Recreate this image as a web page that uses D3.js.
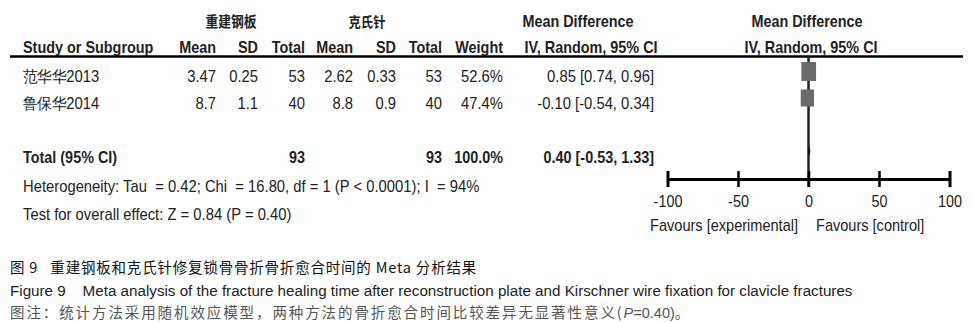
<!DOCTYPE html>
<html>
<head>
<meta charset="utf-8">
<script src="https://cdn.jsdelivr.net/npm/d3@7/dist/d3.min.js"></script>
<style>
  html, body { margin: 0; padding: 0; background: #fff; }
  svg { display: block; }
  .t { font-family: "Liberation Sans", Arial, sans-serif; fill: #222; }
  .b { font-weight: bold; }
</style>
</head>
<body>
<svg id="chart" width="973" height="323"></svg>
<script>
// ---- data ----
const studies = ["范华华2013", "鲁保华2014"];
const expMean = [3.47, 8.7];
const expSD = [0.25, 1.1];
const expTotal = [53, 40];
const ctlMean = [2.62, 8.8];
const ctlSD = [0.33, 0.9];
const ctlTotal = [53, 40];
const weights = [52.6, 47.4];
const md = [0.85, -0.10];
const ciLow = [0.74, -0.54];
const ciHigh = [0.96, 0.34];
const totalExp = 93, totalCtl = 93, totalWeight = 100.0;
const totalMD = 0.40, totalLow = -0.53, totalHigh = 1.33;
const axisTicks = [-100, -50, 0, 50, 100];
const groupLabels = ["重建钢板", "克氏针"];

const svg = d3.select("#chart");
const ink = "#222";
const SX = 0.9;   // horizontal condensation, bold table font
const SXR = 0.925; // horizontal condensation, regular table font

// scales
const x = d3.scaleLinear().domain([-100, 100]).range([667.5, 949.5]);
const rowY = d3.scalePoint().domain(studies).range([71.5, 98]);
const sqW = d3.scaleLinear().domain([0, 100]).range([0, 28]);
const sqH = d3.scaleLinear().domain([0, 100]).range([0, 36]);

function txt(xp, yp, s, opts = {}) {
  const sx = opts.sx || (opts.bold ? SX : SXR);
  const t = svg.append("text").attr("class", "t" + (opts.bold ? " b" : ""))
    .attr("transform", `translate(${xp},${yp}) scale(${sx},1)`)
    .attr("font-size", opts.size || 16)
    .attr("text-anchor", opts.anchor || "start")
    .text(s);
  if (opts.fill) t.style("fill", opts.fill);
  return t;
}
const fmt2 = v => d3.format(".2f")(v).replace("\u2212", "-");

// headers
txt(231, 27, groupLabels[0], {bold: true, anchor: "middle", size: 14.5, sx: 0.88}).style("font-family", "'Noto Sans CJK SC', sans-serif");
txt(367, 27, groupLabels[1], {bold: true, anchor: "middle", size: 14, sx: 0.88}).style("font-family", "'Noto Sans CJK SC', sans-serif");
txt(578, 27, "Mean Difference", {bold: true, anchor: "middle"});
txt(807, 27, "Mean Difference", {bold: true, anchor: "middle"});

const colRight = [216, 258, 305, 353, 396, 442, 503];
const colHead = ["Mean", "SD", "Total", "Mean", "SD", "Total", "Weight"];
txt(23, 53, "Study or Subgroup", {bold: true});
colHead.forEach((h, i) => txt(colRight[i], 53, h, {bold: true, anchor: "end"}));
txt(591, 53, "IV, Random, 95% CI", {bold: true, anchor: "middle"});
txt(811, 53, "IV, Random, 95% CI", {bold: true, anchor: "middle"});

svg.append("line").attr("x1", 10).attr("x2", 963).attr("y1", 56.5).attr("y2", 56.5)
  .attr("stroke", "#000").attr("stroke-width", 2.5);

// rows
studies.forEach((s, i) => {
  const y = rowY(s) + 10.5;
  txt(23, y, s);
  const vals = [expMean[i], expSD[i], expTotal[i], ctlMean[i], ctlSD[i], ctlTotal[i], weights[i].toFixed(1) + "%"];
  vals.forEach((v, j) => txt(colRight[j], y, String(v), {anchor: "end"}));
  txt(654, y, `${fmt2(md[i])} [${fmt2(ciLow[i])}, ${fmt2(ciHigh[i])}]`, {anchor: "end"});
});

// total row
txt(23, 163, "Total (95% CI)", {bold: true});
txt(colRight[2], 163, String(totalExp), {bold: true, anchor: "end"});
txt(colRight[5], 163, String(totalCtl), {bold: true, anchor: "end"});
txt(colRight[6], 163, totalWeight.toFixed(1) + "%", {bold: true, anchor: "end"});
txt(654, 163, `${fmt2(totalMD)} [${fmt2(totalLow)}, ${fmt2(totalHigh)}]`, {bold: true, anchor: "end"});

txt(23, 192, "Heterogeneity: Tau  = 0.42; Chi  = 16.80, df = 1 (P < 0.0001); I  = 94%").style("white-space", "pre");
txt(23, 220, "Test for overall effect: Z = 0.84 (P = 0.40)");

// forest plot
svg.append("line").attr("x1", x(0)).attr("x2", x(0)).attr("y1", 56).attr("y2", 187)
  .attr("stroke", ink).attr("stroke-width", 2.5);

studies.forEach((s, i) => {
  const cy = rowY(s);
  svg.append("line").attr("x1", x(ciLow[i])).attr("x2", x(ciHigh[i])).attr("y1", cy).attr("y2", cy)
    .attr("stroke", ink).attr("stroke-width", 1.5);
  svg.append("rect")
    .attr("x", x(md[i]) - sqW(weights[i]) / 2 - 1)
    .attr("y", cy - sqH(weights[i]) / 2)
    .attr("width", sqW(weights[i])).attr("height", sqH(weights[i]))
    .attr("fill", "#6b6b6b");
});

const dy = 151;
svg.append("path")
  .attr("d", `M${x(totalLow)},${dy} L${x(totalMD)},${dy - 6} L${x(totalHigh)},${dy} L${x(totalMD)},${dy + 6} Z`)
  .attr("fill", "#111");

const axis = d3.axisBottom(x).tickValues(axisTicks).tickSize(0).tickPadding(17)
  .tickFormat(d => d3.format("d")(d).replace("\u2212", "-"));
const gA = svg.append("g").attr("transform", "translate(0,179)").call(axis);
gA.select(".domain").attr("stroke", "#000").attr("stroke-width", 3);
gA.selectAll(".tick text").attr("class", "t").attr("font-size", 16).style("fill", ink)
  .attr("transform", `scale(${SX},1)`);
gA.selectAll(".tick").append("line").attr("y1", -8).attr("y2", 8)
  .attr("stroke", "#000").attr("stroke-width", (d, i) => (i === 0 || i === axisTicks.length - 1) ? 3 : 2.5);

txt(798, 231, "Favours [experimental]", {anchor: "end", sx: 0.91});
txt(816, 231, "Favours [control]", {sx: 0.91});

// captions
svg.append("text").attr("x", 10).attr("y", 273).attr("font-size", 14.5)
  .style("font-family", "'Noto Sans CJK SC', sans-serif").style("font-weight", 400).style("fill", "#111")
  .style("letter-spacing", "0.8px").style("white-space", "pre")
  .text("图 9   重建钢板和克氏针修复锁骨骨折骨折愈合时间的 Meta 分析结果");
svg.append("text").attr("x", 10).attr("y", 296).attr("font-size", 15.2)
  .style("font-family", "'Liberation Sans', Arial, sans-serif").style("fill", "#222").style("white-space", "pre")
  .text("Figure 9    Meta analysis of the fracture healing time after reconstruction plate and Kirschner wire fixation for clavicle fractures");
const c3 = svg.append("text").attr("x", 10).attr("y", 318).attr("font-size", 14.5)
  .style("font-family", "'Noto Sans CJK SC', sans-serif").style("fill", "#555").style("letter-spacing", "1.9px");
c3.append("tspan").text("图注：统计方法采用随机效应模型，两种方法的骨折愈合时间比较差异无显著性意义(");
c3.append("tspan").style("font-style", "italic").style("letter-spacing", "0px").style("font-family", "'Liberation Sans', Arial, sans-serif").text("P");
c3.append("tspan").style("font-family", "'Liberation Sans', Arial, sans-serif").style("letter-spacing", "0px").text("=0.40)");
c3.append("tspan").text("。");
</script>
</body>
</html>
